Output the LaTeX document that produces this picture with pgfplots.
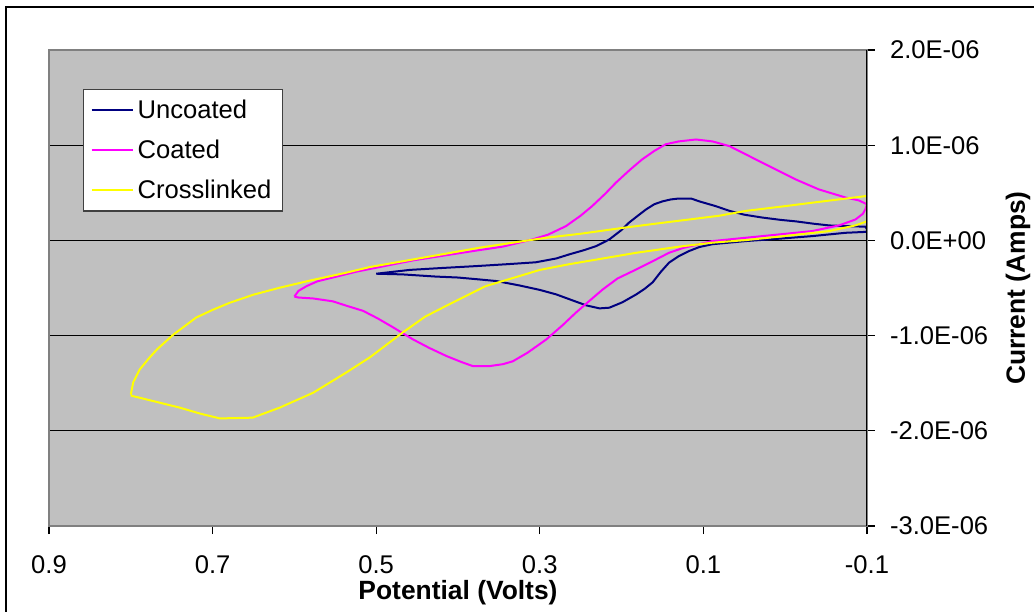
\documentclass[border=0pt]{standalone}
\usepackage{fontspec}
\setmainfont{Liberation Sans}
\usepackage{pgfplots}
\pgfplotsset{compat=1.18}

\definecolor{cvnavy}{HTML}{000080}
\definecolor{cvmagenta}{HTML}{FF00FF}
\definecolor{cvyellow}{HTML}{FFFF00}
\definecolor{plotgray}{HTML}{C0C0C0}
\definecolor{bordergray}{HTML}{808080}
\definecolor{legendgray}{HTML}{404040}

\begin{document}
\begin{tikzpicture}
\useasboundingbox (-24.5pt,-42.5pt) rectangle (492.5pt,263pt);
% outer chart frame (left and top edges)
\draw[line width=0.8pt, black] (-21.5pt,-50pt) -- (-21.5pt,259.5pt) -- (500pt,259.5pt);
\begin{axis}[
  at={(0,0)}, anchor=south west,
  scale only axis, width=409pt, height=238pt,
  xmin=-0.1, xmax=0.9, x dir=reverse,
  ymin=-3e-6, ymax=2e-6,
  xtick={-0.1,0.1,0.3,0.5,0.7,0.9},
  xticklabels={-0.1,0.1,0.3,0.5,0.7,0.9},
  ytick={-3e-6,-2e-6,-1e-6,0,1e-6,2e-6},
  yticklabels={-3.0E-06,-2.0E-06,-1.0E-06,0.0E+00,1.0E-06,2.0E-06},
  scaled x ticks=false, scaled y ticks=false,
  xtick pos=bottom, ytick pos=right,
  tick align=outside, major tick length=4pt,
  tick style={black, line width=0.6pt},
  tick label style={font=\fontsize{12.8}{15}\selectfont},
  yticklabel style={anchor=west, xshift=4pt},
  xticklabel style={yshift=-7.5pt},
  ymajorgrids, grid style={black, line width=0.6pt},
  axis background/.style={fill=plotgray},
  axis line style={draw=bordergray, line width=0.8pt},
  xlabel={Potential (Volts)},
  ylabel={Current (Amps)},
  xlabel style={at={(rel axis cs:0.5,0)}, anchor=base, yshift=-36.5pt,
    font=\bfseries\fontsize{13.2}{15}\selectfont},
  ylabel style={at={(rel axis cs:1,0.5)}, anchor=center, yshift=-75.5pt,
    font=\bfseries\fontsize{13.2}{15}\selectfont},
  legend style={at={(axis description cs:0.0416,0.918)}, anchor=north west,
    draw=legendgray, fill=white, line width=0.6pt,
    font=\fontsize{12.8}{15}\selectfont, row sep=5.2pt,
    inner xsep=3.5pt, inner ysep=3pt},
  legend cell align=left,
  legend image code/.code={\draw[#1] (0pt,0pt) -- (20.5pt,0pt);},
  every axis plot/.append style={line width=1pt},
]
% Uncoated electrode
\addplot[cvnavy] coordinates {
 (0.500,-0.35e-6) (0.459,-0.31e-6) (0.420,-0.29e-6) (0.378,-0.27e-6) (0.340,-0.25e-6)
 (0.305,-0.23e-6) (0.280,-0.19e-6) (0.264,-0.147e-6) (0.245,-0.10e-6) (0.231,-0.06e-6)
 (0.215,0.01e-6) (0.200,0.11e-6) (0.191,0.186e-6) (0.180,0.26e-6) (0.170,0.326e-6)
 (0.160,0.38e-6) (0.150,0.41e-6) (0.140,0.43e-6) (0.130,0.44e-6) (0.115,0.44e-6)
 (0.105,0.41e-6) (0.085,0.36e-6) (0.068,0.31e-6) (0.050,0.27e-6) (0.028,0.24e-6)
 (0.005,0.215e-6) (-0.013,0.20e-6) (-0.035,0.175e-6) (-0.054,0.157e-6) (-0.075,0.15e-6)
 (-0.098,0.144e-6) (-0.100,0.12e-6) (-0.100,0.09e-6)
 (-0.074,0.08e-6) (-0.033,0.045e-6) (0.007,0.018e-6) (0.048,-0.007e-6) (0.089,-0.04e-6)
 (0.105,-0.07e-6) (0.117,-0.11e-6) (0.130,-0.165e-6) (0.142,-0.234e-6) (0.152,-0.33e-6)
 (0.162,-0.44e-6) (0.172,-0.51e-6) (0.182,-0.567e-6) (0.199,-0.65e-6) (0.215,-0.707e-6)
 (0.227,-0.714e-6) (0.243,-0.683e-6) (0.260,-0.63e-6) (0.280,-0.567e-6) (0.300,-0.52e-6)
 (0.325,-0.473e-6) (0.353,-0.427e-6) (0.374,-0.41e-6) (0.400,-0.39e-6) (0.427,-0.38e-6)
 (0.468,-0.357e-6) (0.500,-0.35e-6)
};
\addlegendentry{Uncoated}
% Coated electrode
\addplot[cvmagenta] coordinates {
 (0.600,-0.59e-6) (0.595,-0.60e-6) (0.577,-0.61e-6) (0.553,-0.64e-6) (0.535,-0.69e-6)
 (0.516,-0.74e-6) (0.498,-0.82e-6) (0.480,-0.91e-6) (0.455,-1.04e-6) (0.435,-1.13e-6)
 (0.414,-1.215e-6) (0.395,-1.28e-6) (0.382,-1.32e-6) (0.361,-1.32e-6) (0.345,-1.30e-6)
 (0.333,-1.27e-6) (0.315,-1.18e-6) (0.292,-1.04e-6) (0.272,-0.89e-6) (0.256,-0.76e-6)
 (0.240,-0.64e-6) (0.223,-0.515e-6) (0.205,-0.40e-6) (0.182,-0.305e-6) (0.160,-0.21e-6)
 (0.142,-0.13e-6) (0.125,-0.08e-6) (0.089,-0.007e-6) (0.048,0.028e-6) (0.007,0.063e-6)
 (-0.033,0.098e-6) (-0.066,0.158e-6) (-0.086,0.22e-6) (-0.095,0.28e-6) (-0.098,0.326e-6)
 (-0.100,0.38e-6)
 (-0.090,0.42e-6) (-0.074,0.45e-6) (-0.041,0.536e-6) (-0.013,0.64e-6) (0.028,0.816e-6)
 (0.068,0.99e-6) (0.089,1.04e-6) (0.109,1.06e-6) (0.130,1.04e-6) (0.146,1.01e-6)
 (0.160,0.94e-6) (0.175,0.85e-6) (0.190,0.74e-6) (0.207,0.606e-6) (0.220,0.49e-6)
 (0.236,0.36e-6) (0.250,0.26e-6) (0.268,0.15e-6) (0.290,0.06e-6) (0.309,0.01e-6)
 (0.345,-0.065e-6) (0.380,-0.11e-6) (0.414,-0.155e-6) (0.455,-0.21e-6) (0.496,-0.28e-6)
 (0.525,-0.33e-6) (0.553,-0.39e-6) (0.572,-0.43e-6) (0.585,-0.48e-6) (0.595,-0.53e-6)
 (0.600,-0.59e-6)
};
\addlegendentry{Coated}
% Crosslinked coating
\addplot[cvyellow] coordinates {
 (0.800,-1.62e-6) (0.797,-1.49e-6) (0.789,-1.355e-6) (0.778,-1.24e-6) (0.768,-1.145e-6)
 (0.748,-0.99e-6) (0.720,-0.81e-6) (0.700,-0.73e-6) (0.679,-0.655e-6) (0.650,-0.57e-6)
 (0.618,-0.497e-6) (0.580,-0.42e-6) (0.537,-0.34e-6) (0.508,-0.28e-6) (0.455,-0.20e-6)
 (0.415,-0.14e-6) (0.374,-0.077e-6) (0.330,-0.02e-6) (0.292,0.028e-6) (0.250,0.07e-6)
 (0.200,0.13e-6) (0.150,0.185e-6) (0.117,0.22e-6) (0.080,0.26e-6) (0.048,0.31e-6)
 (0.000,0.36e-6) (-0.033,0.396e-6) (-0.070,0.435e-6) (-0.098,0.465e-6) (-0.100,0.47e-6)
 (-0.100,0.20e-6)
 (-0.086,0.158e-6) (-0.054,0.098e-6) (0.007,0.04e-6) (0.048,0.003e-6) (0.089,-0.024e-6)
 (0.130,-0.066e-6) (0.182,-0.13e-6) (0.264,-0.25e-6) (0.300,-0.31e-6) (0.325,-0.375e-6)
 (0.366,-0.48e-6) (0.407,-0.655e-6) (0.440,-0.80e-6) (0.468,-0.97e-6) (0.508,-1.23e-6)
 (0.537,-1.39e-6) (0.577,-1.60e-6) (0.618,-1.757e-6) (0.651,-1.862e-6) (0.691,-1.87e-6)
 (0.715,-1.82e-6) (0.740,-1.757e-6) (0.781,-1.67e-6) (0.800,-1.63e-6)
};
\addlegendentry{Crosslinked}
% right-hand value axis line
\draw[black, line width=0.8pt] (rel axis cs:1,0) -- (rel axis cs:1,1);
\end{axis}
\end{tikzpicture}
\end{document}
